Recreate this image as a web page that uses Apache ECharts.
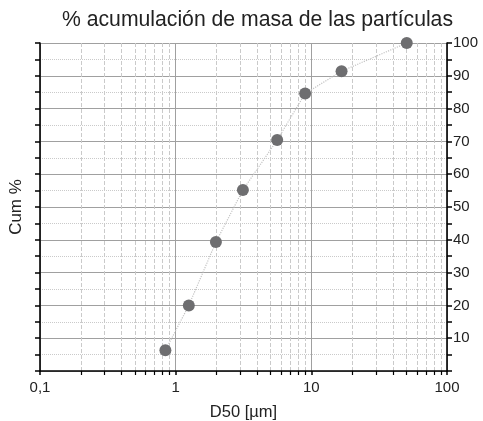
<!DOCTYPE html>
<html>
<head>
<meta charset="utf-8">
<script src="https://cdn.jsdelivr.net/npm/echarts@6/dist/echarts.min.js"></script>
<style>html,body{margin:0;padding:0;background:#fff}#c{width:483px;height:421px}</style>
</head>
<body>
<div id="c"></div>
<script>
const titleText = '% acumulación de masa de las partículas';
const xName = 'D50 [µm]';
const yName = 'Cum %';
const d50 = [0.84, 1.25, 1.98, 3.13, 5.6, 9.0, 16.7, 50.5];
const cum = [6.3, 20.0, 39.3, 55.2, 70.4, 84.6, 91.4, 100];
const xTickLabels = {0.1: '0,1', 1: '1', 10: '10', 100: '100'};

const chart = echarts.init(document.getElementById('c'));
const font = 'Liberation Sans, Arial, sans-serif';
const yCommon = {
  type: 'value', min: 0, max: 100, interval: 10,
  axisLine: {show: true, lineStyle: {color: '#000', width: 1.6}},
  axisTick: {show: true, inside: false, length: 5, lineStyle: {color: '#000', width: 1.5}},
  minorTick: {show: true, splitNumber: 2, length: 5, lineStyle: {color: '#000', width: 1.5}}
};
chart.setOption({
  animation: false,
  title: {text: titleText, left: 57, top: 5,
    textStyle: {fontFamily: font, fontSize: 21.2, fontWeight: 'normal', color: '#222'}},
  grid: {left: 40, right: 36, top: 43, bottom: 50, outerBoundsMode: 'none', containLabel: false},
  xAxis: {
    type: 'log', logBase: 10, min: 0.1, max: 100,
    name: xName, nameLocation: 'middle', nameGap: 33,
    nameTextStyle: {fontFamily: font, fontSize: 16.5, color: '#222'},
    axisLine: {lineStyle: {color: '#000', width: 1.6}},
    axisTick: {show: true, inside: false, length: 4, lineStyle: {color: '#000', width: 1.5}},
    minorTick: {show: true, splitNumber: 9, length: 4, lineStyle: {color: '#000', width: 1.2}},
    axisLabel: {fontFamily: font, fontSize: 15, color: '#222', margin: 9,
      formatter: v => xTickLabels[v] !== undefined ? xTickLabels[v] : String(v).replace('.', ',')},
    splitLine: {show: true, lineStyle: {color: '#a0a0a0', width: 1}},
    minorSplitLine: {show: true, lineStyle: {color: '#cacaca', type: 'dashed', width: 1}}
  },
  yAxis: [
    Object.assign({}, yCommon, {
      position: 'left',
      name: yName, nameLocation: 'middle', nameGap: 15, nameRotate: 90,
      nameTextStyle: {fontFamily: font, fontSize: 17, color: '#222'},
      axisLabel: {show: false},
      splitLine: {show: true, lineStyle: {color: '#a0a0a0', width: 1}},
      minorSplitLine: {show: true, lineStyle: {color: '#cacaca', type: 'dotted', width: 1}}
    }),
    Object.assign({}, yCommon, {
      position: 'right',
      axisLabel: {show: true, fontFamily: font, fontSize: 15, color: '#222', margin: 6,
        formatter: v => v === 0 ? '' : String(v)},
      splitLine: {show: false}
    })
  ],
  series: [{
    type: 'line', yAxisIndex: 0,
    data: d50.map((x, i) => [x, cum[i]]),
    symbol: 'circle', symbolSize: 12,
    itemStyle: {color: '#6e6e70'},
    lineStyle: {color: '#c4c4c4', type: 'dotted', width: 1.2}
  }]
});
</script>
</body>
</html>
